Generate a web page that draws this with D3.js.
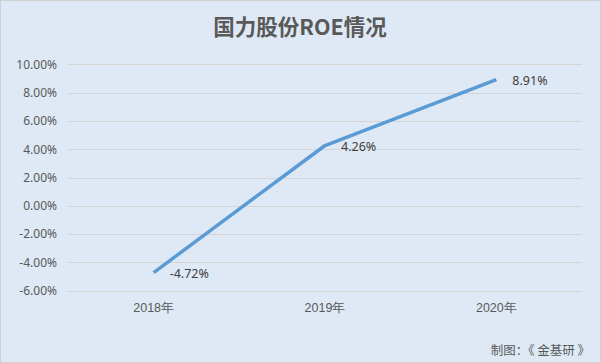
<!DOCTYPE html>
<html>
<head>
<meta charset="utf-8">
<script src="https://cdn.jsdelivr.net/npm/d3@7"></script>
<style>
  body { margin: 0; padding: 0; background: #fff; }
  svg { display: block; font-family: "Noto Sans CJK SC", "Noto Sans", sans-serif; }
</style>
</head>
<body>
<div id="chart"></div>
<script>
// chart data
const years = ["2018年", "2019年", "2020年"]
const roe = [-4.72, 4.26, 8.91]
const yTicks = [-6, -4, -2, 0, 2, 4, 6, 8, 10]

const width = 601
const height = 363
const margin = { left: 68, right: 19, top: 64.3, bottom: 72 }

const svg = d3.select("#chart").append("svg")
    .attr("width", width)
    .attr("height", height)

// background + frame
svg.append("rect")
    .attr("x", 0.5).attr("y", 0.5)
    .attr("width", width - 1).attr("height", height - 1)
    .attr("fill", "#dee9f5")
    .attr("stroke", "#d0d0d0")

const x = d3.scaleBand()
    .domain(years)
    .range([margin.left, width - margin.right])

const y = d3.scaleLinear()
    .domain([-6, 10])
    .range([290.7, 64.3])

// gridlines
svg.append("g")
    .selectAll("line")
    .data(yTicks)
    .join("line")
    .attr("x1", margin.left)
    .attr("x2", width - margin.right)
    .attr("y1", d => Math.round(y(d)) + 0.5)
    .attr("y2", d => Math.round(y(d)) + 0.5)
    .attr("stroke", "#d4d4d4")
    .attr("stroke-width", 1)

// y axis labels
const yAxis = d3.axisLeft(y)
    .tickValues(yTicks)
    .tickSize(0)
    .tickPadding(0)
    .tickFormat(d => d.toFixed(2) + "%")

svg.append("g")
    .attr("transform", "translate(57,0)")
    .call(yAxis)
    .call(g => g.select(".domain").remove())
    .selectAll("text")
    .attr("fill", "#595959")
    .attr("font-size", "12px")
    .attr("font-family", "\"Noto Sans\", sans-serif")

// x axis labels
const xAxis = d3.axisBottom(x).tickSize(0).tickPadding(0)
svg.append("g")
    .attr("transform", "translate(0,303)")
    .call(xAxis)
    .call(g => g.select(".domain").remove())
    .selectAll("text")
    .attr("fill", "#595959")
    .attr("font-size", "12.5px")

// the line
const line = d3.line()
    .x((d, i) => x(years[i]) + x.bandwidth() / 2)
    .y(d => y(d))

svg.append("path")
    .datum(roe)
    .attr("d", line)
    .attr("fill", "none")
    .attr("stroke", "#5b9bd5")
    .attr("stroke-width", 3.5)
    .attr("stroke-linejoin", "round")

// data labels
svg.append("g")
    .selectAll("text")
    .data(roe)
    .join("text")
    .attr("x", (d, i) => x(years[i]) + x.bandwidth() / 2 + 16)
    .attr("y", d => y(d) + 5)
    .attr("fill", "#404040")
    .attr("font-size", "12.5px")
    .attr("font-family", "\"Noto Sans\", sans-serif")
    .text(d => d.toFixed(2) + "%")

// title
svg.append("text")
    .attr("x", 300)
    .attr("y", 35)
    .attr("text-anchor", "middle")
    .attr("fill", "#595959")
    .attr("font-size", "21.5px")
    .attr("font-weight", "bold")
    .text("国力股份ROE情况")

// source note
svg.append("text")
    .attr("x", 590)
    .attr("y", 355)
    .attr("text-anchor", "end")
    .attr("fill", "#595959")
    .attr("font-size", "12.5px")
    .attr("xml:space", "preserve")
    .text("制图：《 金基研 》")
</script>
</body>
</html>
